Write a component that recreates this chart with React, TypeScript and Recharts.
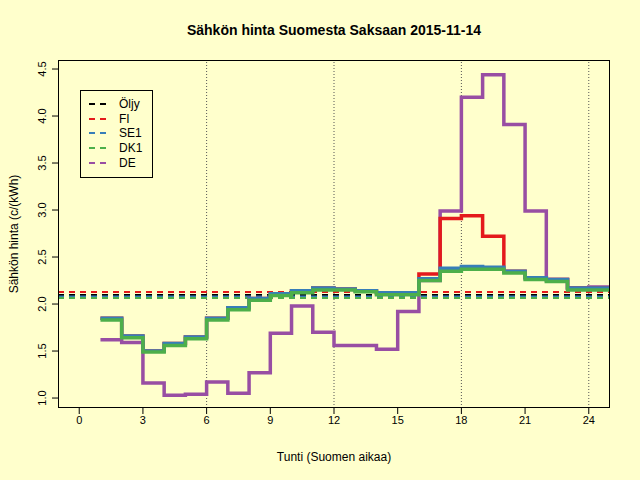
import React from 'react';
import { ComposedChart, Line, XAxis, YAxis, ReferenceLine } from 'recharts';

const hours = [1, 2, 3, 4, 5, 6, 7, 8, 9, 10, 11, 12, 13, 14, 15, 16, 17, 18, 19, 20, 21, 22, 23, 24, 25];
const fi = [1.85, 1.66, 1.5, 1.58, 1.65, 1.85, 1.96, 2.06, 2.11, 2.14, 2.17, 2.16, 2.14, 2.12, 2.12, 2.32, 2.91, 2.94, 2.72, 2.35, 2.28, 2.26, 2.17, 2.17, 2.17];
const se1 = [1.85, 1.66, 1.5, 1.58, 1.65, 1.85, 1.96, 2.06, 2.11, 2.14, 2.17, 2.16, 2.14, 2.12, 2.12, 2.27, 2.38, 2.4, 2.39, 2.35, 2.28, 2.26, 2.17, 2.17, 2.17];
const dk1 = [1.83, 1.64, 1.49, 1.56, 1.63, 1.83, 1.94, 2.04, 2.09, 2.12, 2.15, 2.15, 2.13, 2.1, 2.1, 2.25, 2.35, 2.37, 2.37, 2.33, 2.26, 2.24, 2.15, 2.15, 2.15];
const de = [1.62, 1.59, 1.16, 1.03, 1.04, 1.17, 1.05, 1.27, 1.69, 1.98, 1.7, 1.56, 1.56, 1.52, 1.92, 2.25, 2.99, 4.2, 4.44, 3.91, 2.99, 2.26, 2.17, 2.18, 2.18];
const averages = [
  { name: 'Öljy', value: 2.096, color: '#000000' },
  { name: 'FI', value: 2.128, color: '#e41a1c' },
  { name: 'SE1', value: 2.08, color: '#377eb8' },
  { name: 'DK1', value: 2.064, color: '#4daf4a' },
  { name: 'DE', value: null, color: '#984ea3' },
];
const xTicks = [0, 3, 6, 9, 12, 15, 18, 21, 24];
const yTicks = [1.0, 1.5, 2.0, 2.5, 3.0, 3.5, 4.0, 4.5];
const vLines = [6, 12, 18, 24];

const data = hours.map((h, i) => ({ h, fi: fi[i], se1: se1[i], dk1: dk1[i], de: de[i] }));

const font = 'Liberation Sans, Arial, sans-serif';

const YTick = (props: any) => {
  const { x, y, payload } = props;
  return (
    <text x={x - 4} y={y} transform={`rotate(-90 ${x - 4} ${y})`} textAnchor="middle" fontSize={11} fontFamily={font} fill="#000">
      {payload.value.toFixed(1)}
    </text>
  );
};

export default function App() {
  return (
    <div style={{ position: 'absolute', left: 0, top: 0, width: 640, height: 480, background: '#ffffcc', fontFamily: font }}>
      <ComposedChart width={640} height={480} data={data} margin={{ top: 60, right: 30, bottom: 42, left: 28 }}>
        <XAxis dataKey="h" type="number" domain={[-1, 25]} ticks={xTicks} allowDataOverflow
          tick={{ fontSize: 11, fill: '#000', fontFamily: font }} tickLine={{ stroke: '#000' }} axisLine={false} height={30} tickSize={6} />
        <YAxis type="number" domain={[0.894, 4.596]} ticks={yTicks} allowDataOverflow tick={<YTick />}
          tickLine={{ stroke: '#000' }} axisLine={false} width={30} tickSize={6} />
        {vLines.map((v) => (
          <ReferenceLine key={v} x={v} stroke="#555" strokeDasharray="1 2" />
        ))}
        {averages.filter((a) => a.value !== null).map((a) => (
          <ReferenceLine key={a.name} y={a.value as number} stroke={a.color} strokeWidth={2} strokeDasharray="6 5" />
        ))}
        <Line type="stepAfter" dataKey="de" stroke="#984ea3" strokeWidth={3.5} dot={false} isAnimationActive={false} />
        <Line type="stepAfter" dataKey="fi" stroke="#e41a1c" strokeWidth={3.5} dot={false} isAnimationActive={false} />
        <Line type="stepAfter" dataKey="se1" stroke="#377eb8" strokeWidth={3.5} dot={false} isAnimationActive={false} />
        <Line type="stepAfter" dataKey="dk1" stroke="#4daf4a" strokeWidth={3.5} dot={false} isAnimationActive={false} />
      </ComposedChart>
      <div style={{ position: 'absolute', left: 58, top: 60, width: 552, height: 348, border: '1px solid #000', boxSizing: 'border-box', pointerEvents: 'none' }} />
      <div style={{ position: 'absolute', left: 0, width: 668, top: 22, textAlign: 'center', fontWeight: 'bold', fontSize: 14 }}>
        Sähkön hinta Suomesta Saksaan 2015-11-14
      </div>
      <div style={{ position: 'absolute', left: 0, width: 668, top: 450, textAlign: 'center', fontSize: 12 }}>
        Tunti (Suomen aikaa)
      </div>
      <div style={{ position: 'absolute', left: 14, top: 234, fontSize: 12, transform: 'translate(-50%, -50%) rotate(-90deg)', whiteSpace: 'nowrap' }}>
        Sähkön hinta (c/(kWh)
      </div>
      <div style={{ position: 'absolute', left: 80, top: 90, width: 73, height: 88, border: '1px solid #000', boxSizing: 'border-box', padding: '6px 0 0 8px' }}>
        {averages.map((a) => (
          <div key={a.name} style={{ display: 'flex', alignItems: 'center', height: 14.6, fontSize: 12 }}>
            <svg width={22} height={4} style={{ marginRight: 8 }}>
              <line x1={0} y1={2} x2={22} y2={2} stroke={a.color} strokeWidth={2} strokeDasharray="6 5" />
            </svg>
            {a.name}
          </div>
        ))}
      </div>
    </div>
  );
}
